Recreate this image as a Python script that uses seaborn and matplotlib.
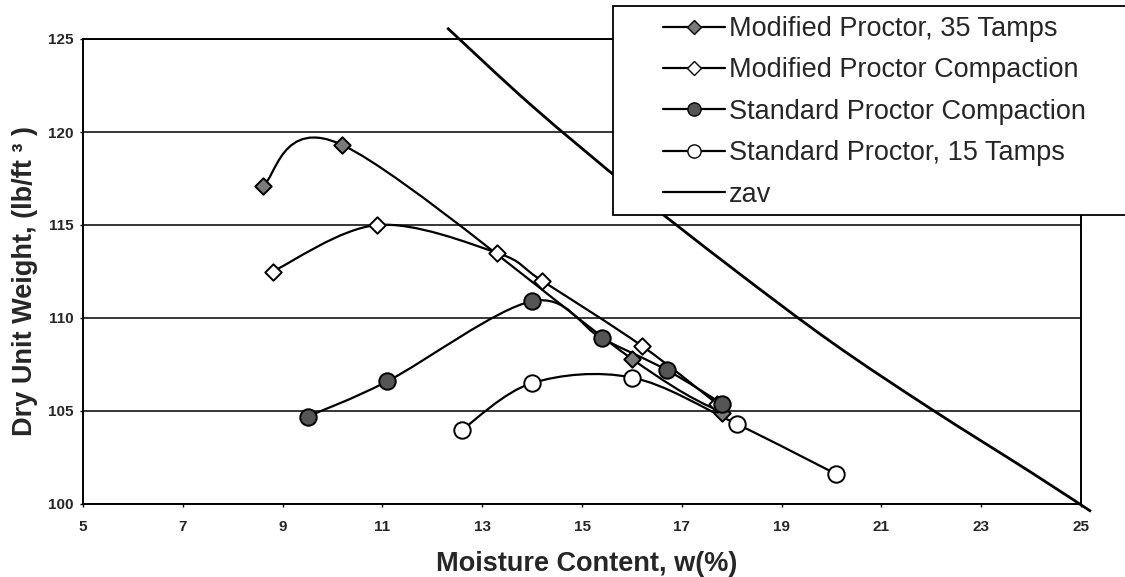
import numpy as np
import matplotlib
matplotlib.use("Agg")
import matplotlib.pyplot as plt
import seaborn as sns
from matplotlib.path import Path
from matplotlib.patches import PathPatch, Rectangle
from matplotlib.lines import Line2D

# values
mod35_w = [8.6, 10.2, 16.0, 17.8]
mod35_g = [117.1, 119.3, 107.8, 104.9]

modc_w = [8.8, 10.9, 13.3, 14.2, 16.2, 17.7]
modc_g = [112.5, 115.0, 113.5, 112.0, 108.5, 105.4]

stdc_w = [9.5, 11.1, 14.0, 15.4, 16.7, 17.8]
stdc_g = [104.7, 106.6, 110.9, 108.9, 107.2, 105.4]

std15_w = [12.6, 14.0, 16.0, 18.1, 20.1]
std15_g = [104.0, 106.5, 106.8, 104.3, 101.6]

zav_w = [12.3, 14, 16, 18, 20, 22, 24, 25.2]
zav_g = [125.6, 121.4, 116.9, 112.7, 108.7, 105.1, 101.7, 99.6]

labels = ["Modified Proctor, 35 Tamps", "Modified Proctor Compaction",
          "Standard Proctor Compaction", "Standard Proctor, 15 Tamps", "zav"]

sns.set_style("white")
plt.rcParams['font.family'] = ['Liberation Sans', 'DejaVu Sans']

fig = plt.figure(figsize=(11.25, 5.77), dpi=100)
ax = fig.add_axes([83 / 1125, 1 - 504 / 577, (1081 - 83) / 1125, (504 - 39) / 577])
ax.set_xlim(5, 25)
ax.set_ylim(100, 125)
ax.set_xticks(range(5, 26, 2))
ax.set_yticks(range(100, 126, 5))
ax.yaxis.grid(True, color='black', lw=1.1)
ax.set_axisbelow(True)
for s in ax.spines.values():
    s.set_color('black')
    s.set_linewidth(1.4)
ax.tick_params(axis='both', direction='out', length=2.5, width=1, color='black',
               labelsize=11, bottom=True, left=True)
ax.tick_params(axis='x', pad=9)
ax.tick_params(axis='y', pad=4)
for t in ax.get_xticklabels() + ax.get_yticklabels():
    t.set_fontweight('bold')


def smooth(xs, ys, **kw):
    # excel style smoothed line, computed in display space
    pts = ax.transData.transform(np.column_stack([xs, ys]))
    n = len(pts)
    verts = [pts[0]]
    codes = [Path.MOVETO]
    for i in range(n - 1):
        p0 = pts[i - 1] if i > 0 else pts[i]
        p1, p2 = pts[i], pts[i + 1]
        p3 = pts[i + 2] if i + 2 < n else pts[i + 1]
        verts += [p1 + (p2 - p0) / 6, p2 - (p3 - p1) / 6, p2]
        codes += [Path.CURVE4] * 3
    path = Path(ax.transData.inverted().transform(np.array(verts)), codes)
    ax.add_patch(PathPatch(path, fill=False, **kw))


smooth(zav_w, zav_g, ec='black', lw=2, zorder=2, clip_on=False)
smooth(mod35_w, mod35_g, ec='black', lw=1.6, zorder=2)
smooth(modc_w, modc_g, ec='black', lw=1.6, zorder=2)
smooth(stdc_w, stdc_g, ec='black', lw=1.6, zorder=2)
smooth(std15_w, std15_g, ec='black', lw=1.6, zorder=2)

sns.scatterplot(x=mod35_w, y=mod35_g, marker='D', s=70, color='#7a7a7a',
                edgecolor='black', linewidth=1.4, zorder=4, ax=ax)
sns.scatterplot(x=modc_w, y=modc_g, marker='D', s=70, color='white',
                edgecolor='black', linewidth=1.4, zorder=4, ax=ax)
sns.scatterplot(x=stdc_w, y=stdc_g, marker='o', s=140, color='#555555',
                edgecolor='black', linewidth=1.4, zorder=4, ax=ax)
sns.scatterplot(x=std15_w, y=std15_g, marker='o', s=140, color='white',
                edgecolor='black', linewidth=1.4, zorder=4, ax=ax)

ax.set_xlabel("Moisture Content, w(%)", fontsize=19.5, fontweight='bold')
ax.set_ylabel("Dry Unit Weight, (lb/ft \u00b3 )", fontsize=19.5, fontweight='bold')
ax.xaxis.set_label_coords(0.505, -47 / 465)
ax.yaxis.set_label_coords(-45 / 998, 0.48)

# legend box
fig.add_artist(Rectangle((613 / 1125, 1 - 215 / 577), 0.5, (215 - 6) / 577,
                         transform=fig.transFigure, fc='white', ec='black', lw=1.3, zorder=3))
handles = [
    Line2D([], [], color='black', lw=1.6, marker='D', ms=7, mfc='#7a7a7a', mec='black'),
    Line2D([], [], color='black', lw=1.6, marker='D', ms=7, mfc='white', mec='black'),
    Line2D([], [], color='black', lw=1.6, marker='o', ms=9.5, mfc='#555555', mec='black'),
    Line2D([], [], color='black', lw=1.6, marker='o', ms=9.5, mfc='white', mec='black'),
    Line2D([], [], color='black', lw=1.6),
]
fig.legend(handles, labels, loc='upper left', bbox_to_anchor=(663 / 1125, 1 - 16 / 577),
           bbox_transform=fig.transFigure, frameon=False, borderpad=0, borderaxespad=0,
           fontsize=19.5, handlelength=2.3, handletextpad=0.12, labelspacing=0.57)

fig.savefig("out.png", dpi=100)
